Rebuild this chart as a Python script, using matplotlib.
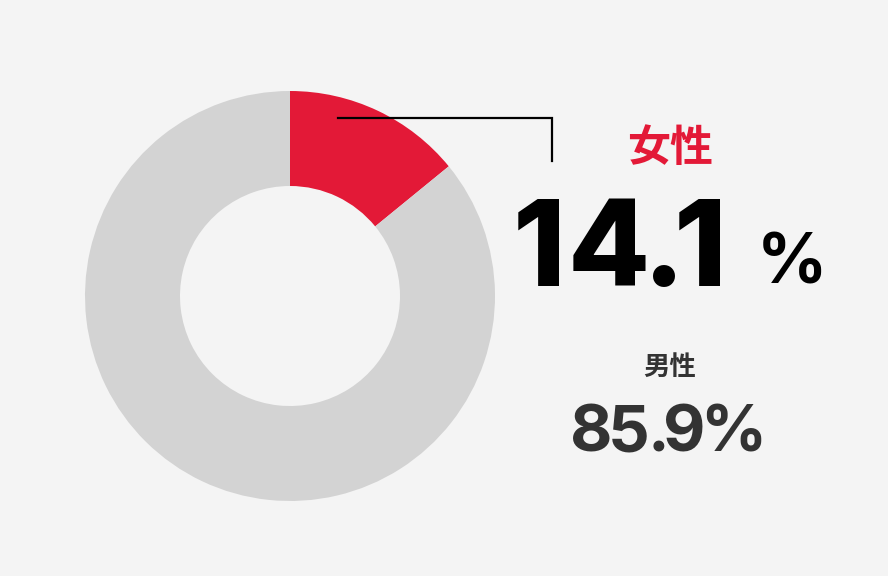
import matplotlib.pyplot as plt
from matplotlib.textpath import TextPath
from matplotlib.font_manager import FontProperties

labels = ['女性', '男性']
shares = [14.1, 85.9]
colors = ['#E31937', '#D3D3D3']

W, H = 888, 576
fig = plt.figure(figsize=(W / 100, H / 100), dpi=100, facecolor='#F4F4F4')
ax = fig.add_axes([0, 0, 1, 1])
ax.set_facecolor('#F4F4F4')

# donut, female slice starting at 12 o'clock going clockwise
ax.pie(shares, colors=colors, startangle=90, counterclock=False,
       radius=205, center=(290, H - 296),
       wedgeprops=dict(width=95, linewidth=0))

ax.set_xlim(0, W)
ax.set_ylim(0, H)
ax.set_aspect('equal')
ax.axis('off')

# leader line
ax.plot([338, 552, 552], [H - 118, H - 118, H - 161], color='black', lw=1.6,
        solid_joinstyle='miter')

cjk_font = ['Noto Sans CJK JP', 'DejaVu Sans']


def tight_text(x, y, s, gaps, size, weight, color):
    # place char by char using ink extents, so the digits sit close together
    fp = FontProperties(family=['Inter', 'DejaVu Sans'], weight=weight, size=size)
    for i, ch in enumerate(s):
        ink = TextPath((0, 0), ch, size=size * 100 / 72, prop=fp).get_extents()
        ax.text(x - ink.x0, y, ch, fontproperties=fp, color=color,
                ha='left', va='baseline')
        if i < len(gaps):
            x += ink.x1 - ink.x0 + gaps[i]


ax.text(670, H - 148, labels[0], color=colors[0], fontsize=31, fontweight='bold',
        family=cjk_font, ha='center', va='center')
tight_text(518, H - 286, f'{shares[0]}', [14, 8, 4], 86, 800, 'black')
tight_text(763, H - 284, '%', [], 50, 'bold', 'black')

ax.text(670, H - 367, labels[1], color='#333333', fontsize=19, fontweight='bold',
        family=cjk_font, ha='center', va='center')
tight_text(573, H - 451, f'{shares[1]}%', [2, 7, 2, 3], 47, 'bold', '#333333')

fig.savefig('out.png', dpi=100, facecolor=fig.get_facecolor())
